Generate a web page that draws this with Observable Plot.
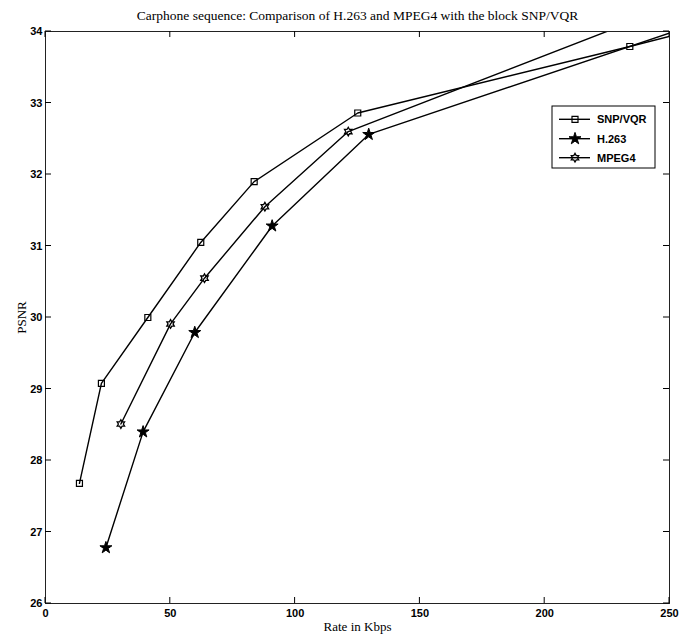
<!DOCTYPE html>
<html><head><meta charset="utf-8">
<script src="https://cdn.jsdelivr.net/npm/d3@7"></script>
<script src="https://cdn.jsdelivr.net/npm/@observablehq/plot@0.6"></script>
<style>body{margin:0;background:#fff}</style>
</head><body><div id="chart"></div>
<script>
// ---- data ----
const seriesNames = ["SNP/VQR", "H.263", "MPEG4"];
const snpRate  = [13.6, 22.4, 41.0, 62.2, 83.6, 125.1, 234.1, 260];
const snpPsnr  = [27.68, 29.08, 30.0, 31.05, 31.9, 32.86, 33.79, 34.02];
const h263Rate = [24.2, 39.1, 59.8, 90.8, 129.5, 256];
const h263Psnr = [26.78, 28.4, 29.79, 31.28, 32.56, 34.05];
const mpeg4Rate = [30.2, 50.1, 63.7, 87.9, 121.3, 250];
const mpeg4Psnr = [28.51, 29.91, 30.55, 31.55, 32.6, 34.34];
const xTicks = [0, 50, 100, 150, 200, 250];
const yTicks = [26, 27, 28, 29, 30, 31, 32, 33, 34];
const titleText = "Carphone sequence: Comparison of H.263 and MPEG4 with the block SNP/VQR";
const xLabel = "Rate in Kbps";
const yLabel = "PSNR";

const toRows = (name, xs, ys) => xs.map((x, i) => ({series: name, rate: x, psnr: ys[i]}));
const snp = toRows(seriesNames[0], snpRate, snpPsnr);
const h263 = toRows(seriesNames[1], h263Rate, h263Psnr);
const mpeg4 = toRows(seriesNames[2], mpeg4Rate, mpeg4Psnr);

// ---- symbols ----
const squareSym = {draw(ctx, size) { const R = Math.sqrt(size / Math.PI); ctx.rect(-R, -R, 2 * R, 2 * R); }};
const pentagram = {draw(ctx, size) {
  const R = Math.sqrt(size / Math.PI), r = R * 0.382;
  for (let i = 0; i < 10; i++) {
    const a = -Math.PI / 2 + i * Math.PI / 5, rr = i % 2 ? r : R;
    const x = rr * Math.cos(a), y = rr * Math.sin(a);
    i ? ctx.lineTo(x, y) : ctx.moveTo(x, y);
  }
  ctx.closePath();
}};
const hexagram = {draw(ctx, size) {
  const R = Math.sqrt(size / Math.PI), r = R / Math.sqrt(3);
  for (let i = 0; i < 12; i++) {
    const a = -Math.PI / 2 + i * Math.PI / 6, rr = i % 2 ? r : R;
    const x = rr * Math.cos(a), y = rr * Math.sin(a);
    i ? ctx.lineTo(x, y) : ctx.moveTo(x, y);
  }
  ctx.closePath();
}};

const styles = [
  {sym: squareSym, r: 3, fill: "none", sw: 1.2},
  {sym: pentagram, r: 6.3, fill: "black", sw: 1},
  {sym: hexagram, r: 4.3, fill: "none", sw: 1.3}
];

const sans = "'Liberation Sans', Arial, Helvetica, sans-serif";
const serif = "'Liberation Serif', 'Times New Roman', Times, serif";

function legend(index, scales, values, dims, context) {
  const g = d3.create("svg:g");
  const right = dims.width - dims.marginRight;
  const left = right - 117, top = dims.marginTop + 75;
  g.append("rect").attr("x", left).attr("y", top).attr("width", 103).attr("height", 62)
    .attr("fill", "white").attr("stroke", "black").attr("stroke-width", 1);
  const rows = [13.3, 32.7, 51.7];
  seriesNames.forEach((name, i) => {
    const y = top + rows[i];
    g.append("line").attr("x1", left + 7).attr("x2", left + 38).attr("y1", y).attr("y2", y)
      .attr("stroke", "black").attr("stroke-width", 1.4);
    const st = styles[i];
    g.append("path").attr("d", d3.symbol(st.sym, Math.PI * st.r * st.r)())
      .attr("transform", `translate(${left + 23},${y})`)
      .attr("fill", st.fill).attr("stroke", "black").attr("stroke-width", st.sw);
    g.append("text").attr("x", left + 45).attr("y", y).attr("dy", "0.35em")
      .attr("text-anchor", "start")
      .attr("font-family", sans).attr("font-size", 11).attr("font-weight", "bold")
      .attr("fill", "black").text(name);
  });
  return g.node();
}

// inward tick marks on all four sides, drawn through the x and y scales
function innerTicks(index, scales, values, dims, context) {
  const g = d3.create("svg:g").attr("stroke", "black").attr("stroke-width", 1);
  const L = dims.marginLeft, R = dims.width - dims.marginRight;
  const T = dims.marginTop, B = dims.height - dims.marginBottom;
  const len = 6;
  for (const v of xTicks) {
    const x = scales.x(v);
    g.append("line").attr("x1", x).attr("x2", x).attr("y1", B).attr("y2", B - len);
    g.append("line").attr("x1", x).attr("x2", x).attr("y1", T).attr("y2", T + len);
  }
  for (const v of yTicks) {
    const y = scales.y(v);
    g.append("line").attr("x1", L).attr("x2", L + len).attr("y1", y).attr("y2", y);
    g.append("line").attr("x1", R).attr("x2", R - len).attr("y1", y).attr("y2", y);
  }
  return g.node();
}

const lineOpts = {x: "rate", y: "psnr", stroke: "black", strokeWidth: 1.4, clip: true};
const dotOpts = (st) => ({x: "rate", y: "psnr", symbol: st.sym, r: st.r, fill: st.fill, stroke: "black", strokeWidth: st.sw, clip: true});
const tickStyle = {fontFamily: sans, fontSize: 11, fontWeight: "bold", fill: "black", tickFormat: d => String(d)};

const chart = Plot.plot({
  width: 692,
  height: 636,
  marginTop: 31, marginLeft: 45, marginRight: 23, marginBottom: 33,
  style: {background: "white", color: "black", fontFamily: sans},
  x: {domain: [0, 250]},
  y: {domain: [26, 34]},
  marks: [
    Plot.line(snp, lineOpts),
    Plot.line(h263, lineOpts),
    Plot.line(mpeg4, lineOpts),
    Plot.dot(snp, dotOpts(styles[0])),
    Plot.dot(h263, dotOpts(styles[1])),
    Plot.dot(mpeg4, dotOpts(styles[2])),
    Plot.frame({stroke: "#222", strokeWidth: 1}),
    Plot.axisX(xTicks, {anchor: "bottom", tickSize: 0, tickPadding: 6, label: null, ...tickStyle}),
    Plot.axisY(yTicks, {anchor: "left", tickSize: 0, tickPadding: 3, label: null, ...tickStyle}),
    innerTicks,
    Plot.text([titleText], {text: d => d, frameAnchor: "top", dy: -16, lineAnchor: "middle", fontFamily: serif, fontSize: 13.5, fill: "black"}),
    Plot.text([xLabel], {text: d => d, frameAnchor: "bottom", dy: 23, lineAnchor: "middle", fontFamily: serif, fontSize: 13, fill: "black"}),
    Plot.text([yLabel], {text: d => d, frameAnchor: "left", dx: -24, rotate: -90, textAnchor: "middle", lineAnchor: "middle", fontFamily: serif, fontSize: 13, fill: "black"}),
    legend
  ]
});
document.getElementById("chart").appendChild(chart);
</script>
</body></html>
